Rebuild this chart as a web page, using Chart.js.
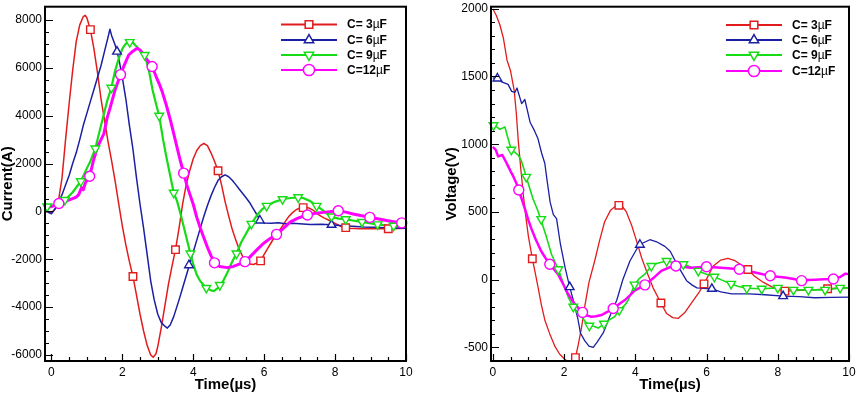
<!DOCTYPE html>
<html>
<head>
<meta charset="utf-8">
<script src="https://cdn.jsdelivr.net/npm/chart.js@4.4.1/dist/chart.umd.min.js"></script>
<style>
    html, body { margin: 0; padding: 0; background: #fff; }
    #wrap { position: relative; width: 858px; height: 396px; }
    #currentChart { position: absolute; left: 0; top: 0; }
    #voltageChart { position: absolute; left: 430px; top: 0; }
</style>
</head>
<body>
<div id="wrap">
    <canvas id="currentChart" width="430" height="396"></canvas>
    <canvas id="voltageChart" width="428" height="396"></canvas>
</div>
<script>
"use strict";

// capacitance labels (the µF unit is appended when the key is drawn)
const seriesLabels = ["C= 3", "C= 6", "C= 9", "C=12"];
const timeTicks = [0, 2, 4, 6, 8, 10];
const currentTicks = [-6000, -4000, -2000, 0, 2000, 4000, 6000, 8000];
const voltageTicks = [-500, 0, 500, 1000, 1500, 2000];

// current (A) against time (µs), [t, I]
const current3 = [[-0.15,0],[0,-60],[0.1,80],[0.2,450],[0.3,1400],[0.4,3000],[0.5,4500],[0.6,5900],[0.7,7100],[0.8,7800],[0.9,8150],[0.95,8200],[1.0,8100],[1.1,7600],[1.2,6800],[1.3,5800],[1.4,4700],[1.5,3800],[1.6,2900],[1.7,2100],[1.8,1250],[1.9,300],[2.0,-600],[2.1,-1400],[2.2,-2100],[2.3,-2720],[2.4,-3500],[2.5,-4300],[2.6,-5000],[2.7,-5600],[2.8,-6000],[2.87,-6100],[2.95,-5950],[3.0,-5650],[3.1,-4850],[3.2,-3950],[3.3,-3050],[3.4,-2300],[3.5,-1600],[3.6,-700],[3.7,300],[3.8,1100],[3.9,1700],[4.0,2200],[4.1,2550],[4.2,2750],[4.3,2840],[4.4,2750],[4.5,2450],[4.6,2100],[4.7,1700],[4.8,1100],[4.9,400],[5.0,-200],[5.1,-750],[5.2,-1200],[5.3,-1600],[5.4,-1900],[5.5,-2100],[5.6,-2200],[5.7,-2220],[5.8,-2150],[5.9,-2070],[6.0,-1800],[6.1,-1550],[6.2,-1300],[6.3,-1050],[6.4,-850],[6.5,-650],[6.6,-420],[6.7,-200],[6.8,-50],[6.9,70],[7.0,130],[7.1,160],[7.2,170],[7.3,120],[7.4,30],[7.5,-100],[7.6,-200],[7.7,-280],[7.8,-350],[8.0,-500],[8.2,-650],[8.4,-700],[8.7,-720],[9.0,-710],[9.3,-730],[9.6,-720],[10.0,-700]];
const current6 = [[-0.15,0],[0,-100],[0.1,100],[0.2,400],[0.3,700],[0.4,1100],[0.5,1500],[0.6,2000],[0.7,2450],[0.8,3000],[0.9,3600],[1.0,4100],[1.1,4600],[1.2,5100],[1.3,5600],[1.4,6100],[1.5,6700],[1.6,7300],[1.65,7620],[1.7,7350],[1.8,6950],[1.9,6400],[2.0,5600],[2.1,4700],[2.2,3600],[2.3,2600],[2.4,1400],[2.5,300],[2.6,-700],[2.7,-1800],[2.8,-2900],[2.9,-3700],[3.0,-4300],[3.1,-4650],[3.2,-4800],[3.27,-4880],[3.35,-4750],[3.45,-4400],[3.6,-3700],[3.7,-3200],[3.8,-2700],[3.9,-2200],[4.0,-1700],[4.1,-1200],[4.2,-700],[4.3,-200],[4.4,250],[4.5,650],[4.6,1000],[4.7,1300],[4.8,1450],[4.9,1530],[5.0,1450],[5.1,1300],[5.2,1120],[5.3,930],[5.4,740],[5.5,550],[5.6,350],[5.7,100],[5.8,-150],[5.9,-400],[6.0,-480],[6.2,-500],[6.4,-470],[6.6,-520],[6.8,-500],[7.0,-520],[7.3,-550],[7.6,-540],[7.9,-560],[8.2,-600],[8.5,-620],[8.8,-650],[9.1,-660],[9.4,-680],[9.7,-690],[10.0,-700]];
const current9 = [[-0.15,200],[0,230],[0.2,300],[0.4,500],[0.6,800],[0.83,1260],[1.0,1800],[1.1,2100],[1.24,2630],[1.35,3300],[1.48,4070],[1.57,4600],[1.69,5170],[1.8,5900],[1.9,6400],[2.0,6800],[2.09,7000],[2.2,7080],[2.3,7050],[2.4,6900],[2.5,6750],[2.63,6540],[2.75,5900],[2.85,5100],[2.95,4500],[3.04,4000],[3.15,3000],[3.26,2150],[3.35,1500],[3.45,780],[3.54,450],[3.65,-150],[3.75,-750],[3.85,-1350],[3.92,-1760],[4.0,-2200],[4.1,-2650],[4.2,-2920],[4.35,-3170],[4.5,-3300],[4.58,-3330],[4.7,-3200],[4.77,-3060],[4.84,-2920],[4.95,-2600],[5.1,-2100],[5.22,-1760],[5.35,-1300],[5.5,-900],[5.64,-520],[5.8,-150],[5.95,100],[6.07,230],[6.3,400],[6.54,520],[6.75,560],[6.96,590],[7.1,560],[7.3,430],[7.48,230],[7.65,50],[7.8,-120],[7.95,-250],[8.1,-300],[8.28,-320],[8.5,-380],[8.79,-450],[9.1,-520],[9.45,-590],[9.7,-600],[10.0,-620]];
const current12 = [[-0.15,150],[0,200],[0.21,330],[0.4,420],[0.54,500],[0.7,600],[0.77,700],[0.85,1000],[0.9,900],[0.96,1200],[1.08,1470],[1.19,2150],[1.3,2700],[1.4,3000],[1.48,3250],[1.57,3900],[1.66,4350],[1.8,5100],[1.95,5720],[2.05,6100],[2.18,6540],[2.3,6700],[2.42,6820],[2.5,6750],[2.61,6540],[2.72,6300],[2.84,6060],[2.95,5650],[3.05,5300],[3.12,5030],[3.24,4450],[3.36,3800],[3.45,3250],[3.54,2700],[3.63,2150],[3.73,1600],[3.82,1100],[3.92,650],[4.0,300],[4.1,-250],[4.2,-700],[4.3,-1100],[4.4,-1500],[4.5,-1850],[4.6,-2150],[4.75,-2300],[4.95,-2350],[5.13,-2300],[5.3,-2200],[5.46,-2100],[5.6,-1900],[5.8,-1600],[5.97,-1350],[6.15,-1150],[6.35,-960],[6.55,-700],[6.73,-450],[6.95,-280],[7.22,-150],[7.45,-80],[7.67,-40],[7.9,0],[8.09,30],[8.3,-30],[8.51,-110],[8.75,-180],[8.98,-250],[9.2,-310],[9.45,-380],[9.65,-430],[9.88,-480],[10.0,-500]];

// symbol positions on the current curves
const current3Marks = [[1.1,7600],[2.3,-2720],[3.5,-1600],[4.7,1700],[5.9,-2070],[7.1,160],[8.3,-680],[9.5,-725]];
const current6Marks = [[1.85,6680],[3.88,-2250],[5.88,-380],[7.9,-560]];
const current9Marks = [[-0.12,205],[0.38,480],[0.83,1260],[1.24,2630],[1.69,5170],[2.21,7080],[2.63,6540],[3.04,4000],[3.45,780],[3.92,-1760],[4.37,-3200],[4.75,-3080],[5.22,-1760],[5.64,-520],[6.07,230],[6.52,510],[6.96,590],[7.48,230],[7.9,-210],[8.3,-330],[8.76,-440],[9.2,-540],[9.65,-600]];
const current12Marks = [[0.21,330],[1.08,1470],[1.95,5720],[2.84,6060],[3.73,1600],[4.6,-2150],[5.46,-2100],[6.35,-960],[7.22,-150],[8.09,30],[8.98,-250],[9.88,-480]];

// voltage (V) against time (µs), [t, U]
const voltage3 = [[0,2000],[0.1,1950],[0.2,1880],[0.3,1780],[0.4,1620],[0.5,1540],[0.6,1400],[0.66,1230],[0.72,1010],[0.79,810],[0.86,620],[0.93,460],[1.0,320],[1.11,155],[1.2,40],[1.27,-55],[1.36,-180],[1.46,-297],[1.6,-400],[1.74,-490],[1.88,-550],[2.02,-587],[2.15,-610],[2.25,-600],[2.32,-575],[2.4,-480],[2.5,-340],[2.58,-200],[2.7,-20],[2.86,138],[3.0,290],[3.14,428],[3.3,510],[3.45,545],[3.6,555],[3.75,500],[3.9,400],[4.04,283],[4.18,160],[4.32,60],[4.5,-60],[4.72,-172],[4.88,-250],[5.05,-280],[5.21,-285],[5.4,-240],[5.63,-152],[5.8,-90],[5.93,-31],[6.05,30],[6.19,101],[6.4,145],[6.6,157],[6.8,140],[7.0,105],[7.16,75],[7.35,25],[7.6,-20],[7.85,-55],[8.16,-85],[8.5,-80],[9.0,-75],[9.5,-65],[10.0,-60]];
const voltage6 = [[0,1490],[0.13,1485],[0.25,1460],[0.43,1442],[0.53,1390],[0.62,1382],[0.68,1415],[0.81,1300],[0.9,1330],[1.05,1160],[1.17,1100],[1.27,1040],[1.37,935],[1.46,860],[1.52,741],[1.61,572],[1.7,480],[1.79,451],[1.9,260],[2.03,89],[2.16,-55],[2.28,-170],[2.39,-290],[2.46,-393],[2.58,-450],[2.7,-490],[2.82,-500],[2.93,-460],[3.1,-393],[3.3,-260],[3.48,-152],[3.65,0],[3.85,138],[4.11,258],[4.41,295],[4.6,280],[4.83,246],[4.98,210],[5.2,100],[5.44,-7],[5.6,-40],[5.73,-60],[6.0,-65],[6.15,-67],[6.4,-90],[6.71,-104],[7.2,-105],[7.64,-111],[8.15,-121],[8.6,-125],[9.04,-133],[9.5,-130],[10.0,-128]];
const voltage9 = [[0,1140],[0.1,1130],[0.2,1110],[0.28,1120],[0.34,1128],[0.42,1050],[0.52,959],[0.62,940],[0.71,922],[0.8,880],[0.87,820],[0.94,759],[1.03,680],[1.13,596],[1.25,520],[1.34,451],[1.5,320],[1.65,186],[1.84,77],[2.02,-55],[2.12,-130],[2.26,-200],[2.35,-240],[2.49,-273],[2.6,-310],[2.71,-340],[2.85,-345],[2.96,-357],[3.1,-330],[3.28,-295],[3.42,-273],[3.55,-225],[3.7,-190],[3.8,-152],[3.9,-90],[3.98,-36],[4.12,10],[4.27,41],[4.45,101],[4.6,120],[4.88,138],[5.1,125],[5.35,114],[5.54,95],[5.77,65],[6.0,40],[6.22,22],[6.45,-5],[6.69,-31],[6.9,-50],[7.13,-63],[7.55,-67],[8.0,-60],[8.44,-75],[8.86,-75],[9.33,-75],[9.75,-60],[10.0,-60]];
const voltage12 = [[0,980],[0.08,960],[0.15,910],[0.27,920],[0.35,880],[0.43,838],[0.5,800],[0.57,766],[0.65,720],[0.73,662],[0.82,590],[0.9,524],[1.0,440],[1.08,379],[1.2,300],[1.36,210],[1.48,160],[1.6,114],[1.72,75],[1.83,41],[1.97,-30],[2.11,-104],[2.3,-180],[2.52,-241],[2.65,-265],[2.77,-273],[2.9,-270],[3.05,-261],[3.2,-240],[3.38,-212],[3.55,-180],[3.7,-152],[3.85,-115],[3.98,-80],[4.12,-60],[4.27,-38],[4.5,10],[4.73,65],[4.95,90],[5.14,101],[5.35,95],[5.54,89],[5.77,92],[6.0,96],[6.3,90],[6.6,85],[6.92,77],[7.15,65],[7.36,53],[7.58,40],[7.79,29],[8.0,22],[8.2,17],[8.45,5],[8.67,-7],[8.85,-3],[9.05,0],[9.3,3],[9.56,5],[9.75,20],[9.9,45],[10.0,40]];

// symbol positions on the voltage curves
const voltage3Marks = [[1.11,155],[2.32,-575],[3.54,549],[4.72,-172],[5.93,-31],[7.16,75],[8.2,-84],[9.4,-67]];
const voltage6Marks = [[0.13,1485],[2.16,-55],[4.13,258],[6.15,-67],[8.15,-121]];
const voltage9Marks = [[0.02,1140],[0.52,959],[0.94,759],[1.36,447],[1.84,77],[2.26,-200],[2.71,-340],[3.12,-325],[3.55,-225],[3.98,-36],[4.45,101],[4.88,138],[5.35,114],[5.77,65],[6.22,22],[6.69,-31],[7.13,-63],[7.55,-67],[8.0,-60],[8.44,-75],[8.86,-75],[9.33,-75],[9.75,-60]];
const voltage12Marks = [[0.73,662],[1.6,114],[2.52,-241],[3.38,-212],[4.27,-38],[5.14,101],[6.0,96],[6.92,77],[7.79,29],[8.67,-7],[9.56,5]];

const COLORS = ["#e21c1c", "#1a1fa3", "#16dc16", "#ff00ff"];
const SYMBOLS = ["square", "up", "down", "circle"];
const FONT = "'Liberation Sans', Arial, sans-serif";

Chart.defaults.font.family = FONT;
Chart.defaults.color = "#000";

const toXY = (pairs) => pairs.map((p) => ({ x: p[0], y: p[1] }));

const pointStyleFor = (sym) => (sym === "square" ? "rect" : sym === "circle" ? "circle" : "triangle");

const buildDatasets = (lines, marks, widths) => {
    const sets = [];
    lines.forEach((pts, i) => {
        sets.push({
            label: seriesLabels[i],
            data: toXY(pts),
            borderColor: COLORS[i],
            borderWidth: widths[i],
            borderJoinStyle: "round",
            pointRadius: 0,
            tension: 0,
            order: 10 - i,
        });
    });
    marks.forEach((pts, i) => {
        sets.push({
            data: toXY(pts),
            showLine: false,
            pointStyle: pointStyleFor(SYMBOLS[i]),
            rotation: SYMBOLS[i] === "down" ? 180 : 0,
            pointRadius: SYMBOLS[i] === "square" ? 5.3 : 5,
            pointBorderWidth: 1.4,
            pointBorderColor: COLORS[i],
            pointBackgroundColor: "#fff",
            clip: false,
            order: 4 - i,
        });
    });
    return sets;
};

const drawSymbol = (ctx, sym, x, y, r) => {
    ctx.beginPath();
    if (sym === "square") {
        const h = r * Math.SQRT1_2;
        ctx.rect(x - h, y - h, 2 * h, 2 * h);
    } else if (sym === "up") {
        ctx.moveTo(x, y - r);
        ctx.lineTo(x + r * 0.866, y + r / 2);
        ctx.lineTo(x - r * 0.866, y + r / 2);
        ctx.closePath();
    } else if (sym === "down") {
        ctx.moveTo(x, y + r);
        ctx.lineTo(x + r * 0.866, y - r / 2);
        ctx.lineTo(x - r * 0.866, y - r / 2);
        ctx.closePath();
    } else {
        ctx.arc(x, y, r, 0, Math.PI * 2);
    }
    ctx.fill();
    ctx.stroke();
};

// Plot frame with inward major / minor ticks.
const frameTicks = {
    id: "frameTicks",
    afterDatasetsDraw: (chart, args, opts) => {
        const { ctx, chartArea: a, scales } = chart;
        const near = (v, step) => Math.abs(v / step - Math.round(v / step)) < 1e-6;
        ctx.save();
        ctx.strokeStyle = "#000";
        ctx.lineWidth = 1.2;
        ctx.beginPath();
        for (let v = opts.xFrom; v <= opts.xTo + 1e-9; v += opts.xMinor) {
            const px = Math.round(scales.x.getPixelForValue(v)) + 0.5;
            const len = near(v, opts.xMajor) ? 7 : 4;
            ctx.moveTo(px, a.bottom);
            ctx.lineTo(px, a.bottom - len);
        }
        for (let v = opts.yFrom; v <= opts.yTo + 1e-9; v += opts.yMinor) {
            const py = Math.round(scales.y.getPixelForValue(v)) + 0.5;
            const len = near(v, opts.yMajor) ? 8 : 4;
            ctx.moveTo(a.left, py);
            ctx.lineTo(a.left + len, py);
        }
        ctx.stroke();
        ctx.lineWidth = 2;
        ctx.strokeRect(a.left, a.top, a.right - a.left, a.bottom - a.top);
        ctx.restore();
    },
};

// Tecplot-like key: line segment with the symbol in the middle, then the label.
const curveKey = {
    id: "curveKey",
    afterDraw: (chart, args, opts) => {
        const ctx = chart.ctx;
        ctx.save();
        opts.rows.forEach((y, i) => {
            ctx.strokeStyle = COLORS[i];
            ctx.fillStyle = "#fff";
            ctx.lineWidth = 2;
            ctx.beginPath();
            ctx.moveTo(opts.x0, y);
            ctx.lineTo(opts.x1, y);
            ctx.stroke();
            ctx.lineWidth = 1.5;
            drawSymbol(ctx, SYMBOLS[i], (opts.x0 + opts.x1) / 2, y, SYMBOLS[i] === "circle" ? 5.6 : 5.4);

            ctx.fillStyle = "#000";
            ctx.textBaseline = "middle";
            ctx.textAlign = "left";
            let x = opts.tx;
            [[seriesLabels[i], "bold"], ["\u00b5", "normal"], ["F", "bold"]].forEach(([txt, w]) => {
                ctx.font = `${w} 12px ${FONT}`;
                ctx.fillText(txt, x, y + 0.5);
                x += ctx.measureText(txt).width;
            });
        });
        ctx.restore();
    },
};

const makeChart = (canvasId, cfg) => new Chart(document.getElementById(canvasId), {
    type: "line",
    data: { datasets: buildDatasets(cfg.lines, cfg.marks, cfg.widths) },
    options: {
        responsive: false,
        animation: false,
        devicePixelRatio: 1,
        layout: { padding: { left: 0, right: cfg.padRight, top: 1, bottom: 0 } },
        plugins: {
            legend: { display: false },
            tooltip: { enabled: false },
            frameTicks: cfg.ticks,
            curveKey: cfg.key,
        },
        scales: {
            x: {
                type: "linear",
                min: cfg.xMin,
                max: 10,
                afterBuildTicks: (s) => { s.ticks = timeTicks.map((v) => ({ value: v })); },
                afterFit: (s) => { s.height = 35; s.paddingLeft = 0; s.paddingRight = 0; },
                grid: { display: false, drawTicks: false },
                border: { display: false },
                ticks: { padding: 4, maxRotation: 0, autoSkip: false, font: { size: 12 }, callback: (v) => String(v) },
                title: {
                    display: true,
                    text: "Time(\u00b5s)",
                    font: { size: 15, weight: "bold", lineHeight: 1 },
                    padding: { top: 0, bottom: 4 },
                },
            },
            y: {
                type: "linear",
                min: cfg.yMin,
                max: cfg.yMax,
                afterBuildTicks: (s) => { s.ticks = cfg.yTicks.map((v) => ({ value: v })); },
                afterFit: (s) => { s.width = cfg.yWidth; s.paddingTop = 0; s.paddingBottom = 0; },
                grid: { display: false, drawTicks: false },
                border: { display: false },
                ticks: { padding: 3, autoSkip: false, font: { size: 12 }, callback: (v) => String(v) },
                title: {
                    display: true,
                    text: cfg.yTitle,
                    font: { size: 15, weight: "bold", lineHeight: 1 },
                    padding: { top: cfg.yTitlePad, bottom: 0 },
                },
            },
        },
    },
    plugins: [frameTicks, curveKey],
});

makeChart("currentChart", {
    lines: [current3, current6, current9, current12],
    marks: [current3Marks, current6Marks, current9Marks, current12Marks],
    widths: [1.5, 1.5, 2.2, 3],
    padRight: 24,
    xMin: -0.18,
    yMin: -6255,
    yMax: 8560,
    yTicks: currentTicks,
    yWidth: 45,
    yTitle: "Current(A)",
    yTitlePad: 0.5,
    ticks: { xFrom: 0, xTo: 10, xMinor: 0.5, xMajor: 2, yFrom: -6000, yTo: 8000, yMinor: 500, yMajor: 2000 },
    key: { x0: 281, x1: 337, tx: 347, rows: [24.5, 40, 55, 70] },
});

makeChart("voltageChart", {
    lines: [voltage3, voltage6, voltage9, voltage12],
    marks: [voltage3Marks, voltage6Marks, voltage9Marks, voltage12Marks],
    widths: [1.3, 1.3, 1.6, 2.5],
    padRight: 9,
    xMin: -0.05,
    yMin: -600,
    yMax: 2015,
    yTicks: voltageTicks,
    yWidth: 61,
    yTitle: "Voltage(V)",
    yTitlePad: 14,
    ticks: { xFrom: 0, xTo: 10, xMinor: 0.5, xMajor: 2, yFrom: -500, yTo: 2000, yMinor: 100, yMajor: 500 },
    key: { x0: 296, x1: 352, tx: 362, rows: [25, 40, 55, 71] },
});
</script>
</body>
</html>
